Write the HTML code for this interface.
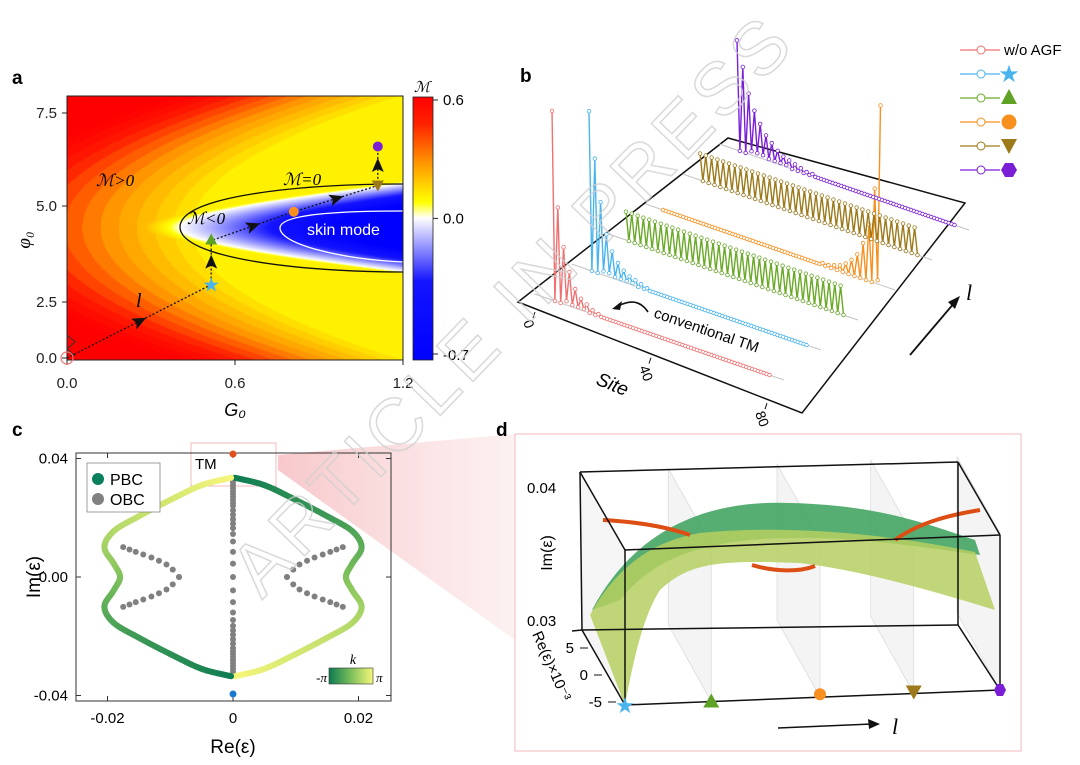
<!DOCTYPE html>
<html><head><meta charset="utf-8">
<style>
html,body{margin:0;padding:0;background:#fff;}
#wrap{position:relative;width:1080px;height:765px;overflow:hidden;font-family:"Liberation Sans",sans-serif;}
#heat{position:absolute;left:67px;top:96px;}
svg{position:absolute;left:0;top:0;}
text{font-family:"Liberation Sans",sans-serif;}
.it{font-family:"Liberation Serif",serif;font-style:italic;}
</style></head>
<body>
<div id="wrap">
<canvas id="heat" width="336" height="264"></canvas>
<svg id="s" width="1080" height="765" viewBox="0 0 1080 765">
<defs>
<linearGradient id="cbar" x1="0" y1="0" x2="0" y2="1">
<stop offset="0" stop-color="#ff0000"/><stop offset="0.1" stop-color="#ff2000"/><stop offset="0.25" stop-color="#ff9600"/><stop offset="0.4" stop-color="#ffff00"/><stop offset="0.46" stop-color="#ffffff"/><stop offset="0.7" stop-color="#1414ff"/><stop offset="1" stop-color="#0000ff"/></linearGradient>
<linearGradient id="kbar" x1="0" y1="0" x2="1" y2="0"><stop offset="0" stop-color="#0c7a52"/><stop offset="0.5" stop-color="#7cc05a"/><stop offset="1" stop-color="#f6f67a"/></linearGradient>
<linearGradient id="wedge" x1="0" y1="0" x2="1" y2="0"><stop offset="0" stop-color="#f4b0b4" stop-opacity="0.7"/><stop offset="1" stop-color="#fbe3e4" stop-opacity="0.5"/></linearGradient>
</defs>
<polygon points="278,455 515,434 515,640 278,470" fill="url(#wedge)"/>
<text x="12" y="84" font-size="19" font-weight="bold">a</text>
<text x="520" y="82" font-size="19" font-weight="bold">b</text>
<text x="12" y="436" font-size="19" font-weight="bold">c</text>
<text x="496" y="436" font-size="19" font-weight="bold">d</text>
<g id="pa"></g>
<g id="pb"></g>
<g id="pc"></g>
<g id="pd"></g>
<g id="wm"></g>
</svg>
</div>
<script>
// ===== Panel a data =====
const aXTicks = [0.0, 0.6, 1.2];
const aYTicks = [0.0, 2.5, 5.0, 7.5];
const aPathG = [0.0, 0.515, 0.515, 0.81, 1.11, 1.11];
const aPathPhi = [0.0, 2.95, 4.1, 4.85, 5.55, 6.6];
const aMarkerColors = ['#f07070','#4ab4ee','#5fa225','#f7901e','#9c7a1c','#7a1fd6'];
const cbarTicks = [0.6, 0.0, -0.7];
// ===== Panel b data (site amplitudes) =====
const bSeriesNames = ['w/o AGF','star','triangle','circle','down-triangle','hexagon'];
const bColors = ['#f07070','#4ab4ee','#6aaa28','#f7901e','#9c7a1c','#7a1fd6'];
const bRed = [1,0,.5,0,.3,.02,.18,.01,.1,.01,.06,.01,.04,0,.02,0,.01,0,0,0,0,0,0,0,0,0,0,0,0,0,0,0,0,0,0,0,0,0,0,0,0,0,0,0,0,0,0,0,0,0,0,0,0,0,0,0,0,0,0,0,0,0,0,0,0,0,0,0,0,0,0,0,0,0,0,0];
const bBlue = [.84,0,.6,0,.38,.02,.22,.02,.14,.01,.09,.01,.06,.01,.04,.01,.03,0,.02,0,.01,0,0,0,0,0,0,0,0,0,0,0,0,0,0,0,0,0,0,0,0,0,0,0,0,0,0,0,0,0,0,0,0,0,0,0,0,0,0,0,0,0,0,0,0,0,0,0,0,0,0,0,0,0,0,0];
const bGreen = [.15,0,.15,0,.15,0,.15,0,.15,0,.15,0,.15,0,.15,0,.15,0,.15,0,.15,0,.15,0,.15,0,.15,0,.15,0,.15,0,.15,0,.15,0,.15,0,.15,0,.15,0,.15,0,.15,0,.15,0,.15,0,.15,0,.15,0,.15,0,.15,0,.15,0,.15,0,.15,0,.15,0,.15,0,.15,0,.15,0,.15,0,.15,0];
const bOrange = [0,0,0,0,0,0,0,0,0,0,0,0,0,0,0,0,0,0,0,0,0,0,0,0,0,0,0,0,0,0,0,0,0,0,0,0,0,0,0,0,0,0,0,0,0,0,0,0,0,0,0,0,0,0,0,.01,0,.01,0,.02,0,.03,0,.05,0,.08,0,.12,0,.19,0,.3,0,.5,.02,.95];
const bBrown = [.14,0,.14,0,.14,0,.14,0,.14,0,.14,0,.14,0,.14,0,.14,0,.14,0,.14,0,.14,0,.14,0,.14,0,.14,0,.14,0,.14,0,.14,0,.14,0,.14,0,.14,0,.14,0,.14,0,.14,0,.14,0,.14,0,.14,0,.14,0,.14,0,.14,0,.14,0,.14,0,.14,0,.14,0,.14,0,.14,0,.14,0,.14,0];
const bPurple = [.58,0,.45,0,.32,.02,.24,.02,.18,.02,.13,.01,.1,.01,.07,.01,.05,.01,.04,0,.03,0,.02,0,.01,0,.01,0,0,0,0,0,0,0,0,0,0,0,0,0,0,0,0,0,0,0,0,0,0,0,0,0,0,0,0,0,0,0,0,0,0,0,0,0,0,0,0,0,0,0,0,0,0,0,0,0];
const bSiteTicks = [0, 40, 80];
// ===== Panel c data =====
const cXTicks = [-0.02, 0, 0.02];
const cYTicks = [0.04, 0.00, -0.04];
const pbcRe = [0.0003,0.005,0.01,0.015,0.019,0.0205,0.019,0.018,0.019,0.0205,0.019,0.015,0.01,0.005,0.0003];
const pbcIm = [0.0335,0.031,0.026,0.0205,0.0155,0.01,0.0045,0,-0.0045,-0.01,-0.0155,-0.0205,-0.026,-0.031,-0.0335];
const obcCenterIm = [0.033,0.032,0.031,0.030,0.029,0.028,0.027,0.026,0.025,0.024,0.0225,0.021,0.0195,0.018,0.0165,0.0145,0.012,0.0085,0.0045,0,-0.0045,-0.0085,-0.012,-0.0145,-0.0165,-0.018,-0.0195,-0.021,-0.0225,-0.024,-0.025,-0.026,-0.027,-0.028,-0.029,-0.030,-0.031,-0.032,-0.033];
const obcBranchRe = [0.0086,0.0096,0.0106,0.0118,0.0130,0.0143,0.0155,0.0165,0.0175];
const obcBranchIm = [0,0.0025,0.0042,0.0055,0.0066,0.0076,0.0085,0.0093,0.0101];
const tmIm = [0.0415, -0.0395];
// ===== Panel d data =====
const dLevels = ['star','triangle','circle','down-triangle','hexagon'];
const dLpos = [0, 0.23, 0.52, 0.77, 1.0];
const dColors = ['#4ab4ee','#5fa225','#f7901e','#9c7a1c','#7a1fd6'];
const dImTicks = [0.04, 0.03];
const dReTicks = [5, 0, -5];

const NS='http://www.w3.org/2000/svg';
function mk(parent, tag, attrs, name, txt){
  const e=document.createElementNS(NS,tag);
  for(const k in attrs) e.setAttribute(k,attrs[k]);
  
  
  if(txt!==undefined) e.textContent=txt;
  parent.appendChild(e); return e;
}

// ===== Panel a =====
(function(){
  const c=document.getElementById('heat'), ctx=c.getContext('2d');
  const img=ctx.createImageData(336,264);
  const stops=[[-0.7,[0,0,255]],[-0.4,[20,20,255]],[0,[255,255,255]],[0.07,[255,255,0]],[0.3,[255,150,0]],[0.48,[255,25,0]],[0.6,[255,0,0]]];
  function col(v){ if(v<=stops[0][0])return stops[0][1]; for(let i=1;i<stops.length;i++){ if(v<=stops[i][0]){const a=stops[i-1],b=stops[i];const t=(v-a[0])/(b[0]-a[0]);return [0,1,2].map(j=>a[1][j]+(b[1][j]-a[1][j])*t);} } return stops[stops.length-1][1];}
  for(let py=0;py<264;py++)for(let px=0;px<336;px++){
    const x=px+67,y=py+96,dy=y-227;
    const r=x-180-286*(Math.sqrt(1+(dy/30)*(dy/30))-1);
    let M;
    if(r>0){M=Math.max(-0.7,-r*0.0045);}
    else{const g=180+0.012*dy*dy-x;let mo=0.1+Math.max(0,g+20)*0.0022;mo=Math.floor(mo*25)/25+0.02;M=Math.min(0.6,Math.min(mo,-r*0.006));}
    const cc=col(M),k=(py*336+px)*4;img.data[k]=cc[0];img.data[k+1]=cc[1];img.data[k+2]=cc[2];img.data[k+3]=255;
  }
  ctx.putImageData(img,0,0);
  const g=document.getElementById('pa');
  const X=v=>67+v/1.2*336;
  const yK=[0,2.5,5,7.5], yP=[358,302,206,113];
  const Y=v=>{let i=0;while(i<2&&v>yK[i+1])i++;return yP[i]+(v-yK[i])/(yK[i+1]-yK[i])*(yP[i+1]-yP[i]);};
  mk(g,'path',{d:'M403,184 C300,184 180,196 180,227 C180,258 300,272 403,272',fill:'none',stroke:'#111','stroke-width':1.3},'m-zero-contour');
  mk(g,'path',{d:'M403,211 C340,211 280,214 280,228 C280,244 340,259 403,262',fill:'none',stroke:'#fff','stroke-width':1.3},'skin-mode-contour');
  mk(g,'rect',{x:67,y:96,width:336,height:264,fill:'none',stroke:'#222','stroke-width':1},'plot-frame-a');
  aXTicks.forEach((v,i)=>{mk(g,'line',{x1:X(v),y1:360,x2:X(v),y2:365,stroke:'#222'},'x-tick-a');mk(g,'text',{x:X(v),y:388,'font-size':15,'text-anchor':'middle',fill:'#222'},'x-tick-label-a',v.toFixed(1));});
  aYTicks.forEach(v=>{mk(g,'line',{x1:62,y1:Y(v),x2:67,y2:Y(v),stroke:'#222'},'y-tick-a');mk(g,'text',{x:57,y:Y(v)+5,'font-size':15,'text-anchor':'end',fill:'#222'},'y-tick-label-a',v.toFixed(1));});
  mk(g,'path',{d:'M67,335 l8,7 l-8,7 l8,7',fill:'none',stroke:'#333','stroke-width':1},'axis-break');
  mk(g,'text',{x:235,y:416,'font-size':18,'text-anchor':'middle','font-style':'italic'},'x-axis-title-a','G₀');
  mk(g,'text',{x:0,y:0,'font-size':19,class:'it',transform:'translate(30,240) rotate(-90)','text-anchor':'middle'},'y-axis-title-a','φ₀');
  let d='';aPathG.forEach((v,i)=>{d+=(i?'L':'M')+X(v)+','+Y(aPathPhi[i]);});
  mk(g,'path',{d:d,fill:'none',stroke:'#111','stroke-width':1.3,'stroke-dasharray':'2,2'},'l-path');
  for(let i=0;i<aPathG.length-1;i++){const x1=X(aPathG[i]),y1=Y(aPathPhi[i]),x2=X(aPathG[i+1]),y2=Y(aPathPhi[i+1]);const mx=(x1+x2)/2,my=(y1+y2)/2,an=Math.atan2(y2-y1,x2-x1)*180/Math.PI;
    mk(g,'path',{d:'M8,0 L-6,-6 L-3,0 L-6,6Z',fill:'#111',transform:`translate(${mx},${my}) rotate(${an})`},'path-arrow');}
  aPathG.forEach((v,i)=>{const x=X(v),y=Y(aPathPhi[i]),c=aMarkerColors[i];
    if(i==0)mk(g,'circle',{cx:x,cy:y,r:6,fill:'none',stroke:c,'stroke-width':1.2},'marker-start');
    else if(i==1)mk(g,'text',{x:x,y:y+7,'font-size':20,'text-anchor':'middle',fill:c},'marker-star','★');
    else if(i==2)mk(g,'path',{d:`M${x},${y-7}L${x+6},${y+4}L${x-6},${y+4}Z`,fill:c},'marker-triangle');
    else if(i==3)mk(g,'circle',{cx:x,cy:y,r:5,fill:c},'marker-circle');
    else if(i==4)mk(g,'path',{d:`M${x-6},${y-5}L${x+6},${y-5}L${x},${y+6}Z`,fill:c},'marker-down-triangle');
    else mk(g,'circle',{cx:x,cy:y,r:5,fill:c},'marker-hexagon');});
  mk(g,'text',{x:96,y:186,'font-size':17,class:'it'},'label-m-positive','ℳ>0');
  mk(g,'text',{x:283,y:185,'font-size':17,class:'it'},'label-m-zero','ℳ=0');
  mk(g,'text',{x:187,y:224,'font-size':17,class:'it'},'label-m-negative','ℳ<0');
  mk(g,'text',{x:307,y:235,'font-size':16,fill:'#fff'},'label-skin-mode','skin mode');
  mk(g,'text',{x:136,y:307,'font-size':20,class:'it'},'label-l','l');
  mk(g,'rect',{x:413,y:97,width:20,height:263,fill:'url(#cbar)',stroke:'#222','stroke-width':0.8},'colorbar-a');
  const cy=v=>97+(0.6-v)/1.3*263;
  cbarTicks.forEach(v=>{const o=(v==0.6?3:v==-0.7?-6:0);mk(g,'line',{x1:433,y1:cy(v)+o,x2:438,y2:cy(v)+o,stroke:'#222'},'colorbar-tick');
    mk(g,'text',{x:443,y:cy(v)+(v==0.6?8:v==-0.7?0:5),'font-size':15},'colorbar-tick-label',v.toFixed(1));});
  mk(g,'text',{x:414,y:92,'font-size':15,class:'it'},'colorbar-title','ℳ');
})();

// ===== Panel b =====
(function(){
  const g=document.getElementById('pb');
  mk(g,'polygon',{points:'518,302 802,413 965,203 728,138',fill:'#fff',stroke:'#111','stroke-width':1.5},'base-plane');
  const O0=[552,300], dep=[37,-30], sv=[2.9,1.0], H=189;
  const series=[bRed,bBlue,bGreen,bOrange,bBrown,bPurple];
  for(let r=0;r<6;r++){const ox=O0[0]+r*dep[0],oy=O0[1]+r*dep[1];
    mk(g,'line',{x1:ox-6*sv[0],y1:oy-6*sv[1],x2:ox+80*sv[0],y2:oy+80*sv[1],stroke:'#c4c4c4','stroke-width':1},'row-baseline');}
  for(let r=0;r<6;r++){const ox=O0[0]+r*dep[0],oy=O0[1]+r*dep[1],vals=series[r];
    const pts=vals.map((v,i)=>[ox+i*sv[0],oy+i*sv[1]-v*H]);
    mk(g,'polyline',{points:pts.map(p=>p.join(',')).join(' '),fill:'none',stroke:bColors[r],'stroke-width':1.4},'series-line-'+r);
    pts.forEach(p=>{const c=document.createElementNS(NS,'circle');c.setAttribute('cx',p[0]);c.setAttribute('cy',p[1]);c.setAttribute('r',1.8);c.setAttribute('fill','#fff');c.setAttribute('stroke',bColors[r]);c.setAttribute('stroke-width',0.8);
      
      
      g.appendChild(c);});
  }
  const tb=[535,312];
  bSiteTicks.forEach(v=>{const x=tb[0]+v*2.9,y=tb[1]+v*1.14;mk(g,'line',{x1:x,y1:y,x2:x-2,y2:y+6,stroke:'#111'},'site-tick');
    mk(g,'text',{x:0,y:0,'font-size':14,transform:`translate(${x-12},${y+10}) rotate(70)`},'site-tick-label',String(v));});
  mk(g,'text',{x:0,y:0,'font-size':19,'font-style':'italic',transform:'translate(595,384) rotate(22)'},'site-axis-title','Site');
  mk(g,'text',{x:0,y:0,'font-size':15,transform:'translate(653,317) rotate(19)'},'annotation-conventional-tm','conventional TM');
  mk(g,'path',{d:'M648,312 C640,300 630,300 618,306',fill:'none',stroke:'#111','stroke-width':1.6},'annotation-arrow');
  mk(g,'path',{d:'M612,309 L622,301 L620,310Z',fill:'#111'},'annotation-arrowhead');
  mk(g,'line',{x1:910,y1:355,x2:955,y2:302,stroke:'#111','stroke-width':1.8},'l-axis-arrow');
  mk(g,'path',{d:'M960,296 L948,302 L955,309Z',fill:'#111'},'l-axis-arrowhead');
  mk(g,'text',{x:966,y:300,'font-size':22,class:'it'},'l-axis-label','l');
  const ly=[50,74,98,122,146,170];
  ly.forEach((y,i)=>{mk(g,'line',{x1:960,y1:y,x2:1000,y2:y,stroke:bColors[i],'stroke-width':1.2},'legend-line');
    mk(g,'circle',{cx:981,cy:y,r:4,fill:'#fff',stroke:bColors[i],'stroke-width':1},'legend-marker');
    const x=1009;
    if(i==0)mk(g,'text',{x:1004,y:y+5,'font-size':15},'legend-label','w/o AGF');
    else if(i==1)mk(g,'text',{x:x,y:y+8,'font-size':24,'text-anchor':'middle',fill:bColors[i]},'legend-star','★');
    else if(i==2)mk(g,'path',{d:`M${x},${y-9}L${x+8},${y+6}L${x-8},${y+6}Z`,fill:'#5fa225'},'legend-triangle');
    else if(i==3)mk(g,'circle',{cx:x,cy:y,r:7.5,fill:bColors[i]},'legend-circle');
    else if(i==4)mk(g,'path',{d:`M${x-8},${y-7}L${x+8},${y-7}L${x},${y+8}Z`,fill:bColors[i]},'legend-down-triangle');
    else mk(g,'polygon',{points:`${x-4},${y-7} ${x+4},${y-7} ${x+8},${y} ${x+4},${y+7} ${x-4},${y+7} ${x-8},${y}`,fill:bColors[i]},'legend-hexagon');});
})();

// ===== Panel c =====
(function(){
  const g=document.getElementById('pc');
  const X=v=>233+v/0.02*125.5, Y=v=>577-v/0.04*118.5;
  mk(g,'rect',{x:191,y:443,width:85,height:43,fill:'none',stroke:'#f2b8bc','stroke-width':1},'tm-zoom-box');
  mk(g,'rect',{x:76,y:453,width:315,height:248,fill:'none',stroke:'#333','stroke-width':1},'plot-frame-c');
  cXTicks.forEach(v=>{mk(g,'line',{x1:X(v),y1:701,x2:X(v),y2:696,stroke:'#333'},'x-tick-c');mk(g,'line',{x1:X(v),y1:453,x2:X(v),y2:458,stroke:'#333'},'x-tick-c-top');
    mk(g,'text',{x:X(v),y:723,'font-size':15,'text-anchor':'middle'},'x-tick-label-c',v===0?'0':v.toFixed(2));});
  cYTicks.forEach(v=>{mk(g,'line',{x1:76,y1:Y(v),x2:81,y2:Y(v),stroke:'#333'},'y-tick-c');mk(g,'line',{x1:391,y1:Y(v),x2:386,y2:Y(v),stroke:'#333'},'y-tick-c-right');
    mk(g,'text',{x:68,y:Y(v)+5,'font-size':15,'text-anchor':'end'},'y-tick-label-c',v.toFixed(2));});
  mk(g,'text',{x:233,y:753,'font-size':19,'text-anchor':'middle'},'x-axis-title-c','Re(ε)');
  mk(g,'text',{x:0,y:0,'font-size':19,'text-anchor':'middle',transform:'translate(40,577) rotate(-90)'},'y-axis-title-c','Im(ε)');
  obcCenterIm.forEach(v=>mk(g,'circle',{cx:X(0),cy:Y(v),r:3,fill:'#808080'},'obc-point'));
  obcBranchRe.forEach((re,i)=>{const im=obcBranchIm[i];
    [[re,im],[re,-im],[-re,im],[-re,-im]].forEach(p=>mk(g,'circle',{cx:X(p[0]),cy:Y(p[1]),r:3,fill:'#808080'},'obc-point'));});
  function lerpC(t){const a=[12,122,82],m=[124,192,90],b=[246,246,122];let c;if(t<0.5){const s=t/0.5;c=a.map((x,j)=>x+(m[j]-x)*s);}else{const s=(t-0.5)/0.5;c=m.map((x,j)=>x+(b[j]-x)*s);}return `rgb(${c.map(Math.round).join(',')})`;}
  const n=pbcRe.length, SUB=6;
  for(let side=0;side<2;side++){const sg=side?-1:1;
    const P=pbcRe.map((re,i)=>[X(sg*re),Y(sg*pbcIm[i])]);
    const get=i=>P[Math.max(0,Math.min(n-1,i))];
    for(let i=0;i<n-1;i++){const p0=get(i-1),p1=get(i),p2=get(i+1),p3=get(i+2);
      let prev=p1;
      for(let s=1;s<=SUB;s++){const t=s/SUB,t2=t*t,t3=t2*t;
        const q=[0,1].map(j=>0.5*((2*p1[j])+(-p0[j]+p2[j])*t+(2*p0[j]-5*p1[j]+4*p2[j]-p3[j])*t2+(-p0[j]+3*p1[j]-3*p2[j]+p3[j])*t3));
        mk(g,'line',{x1:prev[0],y1:prev[1],x2:q[0],y2:q[1],stroke:lerpC((i+t-0.5/SUB)/(n-1)),'stroke-width':6,'stroke-linecap':'round'},'pbc-segment');
        prev=q;}}}
  mk(g,'circle',{cx:X(0),cy:Y(tmIm[0]),r:3.5,fill:'#e0501a'},'tm-point-top');
  mk(g,'circle',{cx:X(0),cy:Y(tmIm[1]),r:3.5,fill:'#1a78d0'},'tm-point-bottom');
  mk(g,'text',{x:195,y:469,'font-size':15},'tm-label','TM');
  mk(g,'rect',{x:87,y:463,width:73,height:49,fill:'#fff',stroke:'#888','stroke-width':0.8},'legend-c');
  mk(g,'circle',{cx:98,cy:479,r:6,fill:'#0a7f5e'},'legend-pbc-marker');
  mk(g,'text',{x:110,y:485,'font-size':16},'legend-pbc-label','PBC');
  mk(g,'circle',{cx:98,cy:499,r:6,fill:'#808080'},'legend-obc-marker');
  mk(g,'text',{x:110,y:505,'font-size':16},'legend-obc-label','OBC');
  mk(g,'rect',{x:329,y:668,width:44,height:16,fill:'url(#kbar)',stroke:'#333','stroke-width':0.6},'k-colorbar');
  mk(g,'text',{x:327,y:682,'font-size':13,'text-anchor':'end',class:'it'},'k-min-label','-π');
  mk(g,'text',{x:376,y:682,'font-size':13,class:'it'},'k-max-label','π');
  mk(g,'text',{x:353,y:664,'font-size':14,'text-anchor':'middle',class:'it'},'k-title','k');
})();

// ===== Panel d =====
(function(){
  const g=document.getElementById('pd');
  mk(g,'rect',{x:515,y:434,width:506,height:317,fill:'#fff',stroke:'#f2c4c8','stroke-width':1.2},'panel-d-frame');
  const FB=l=>[625+l*375,705-l*15];
  dLpos.forEach((l,i)=>{if(i==0)return;const [x,y]=FB(l);
    mk(g,'polygon',{points:`${x},${y} ${x},${y-157} ${x-43},${y-233} ${x-43},${y-77}`,fill:'#ececec','fill-opacity':0.6,stroke:'#d8d8d8','stroke-width':0.7},'l-slice-plane');});
  mk(g,'polygon',{points:'580,472 625,550 625,705 582,630',fill:'#eeeeee','fill-opacity':0.6},'left-side-plane');
  mk(g,'path',{d:'M592,610 C640,520 720,500 790,503 C880,505 930,525 975,540 L980,555 C930,548 880,540 820,538 C720,536 660,550 620,600 Z',fill:'#3aa05a','fill-opacity':0.85},'surface-upper');
  mk(g,'path',{d:'M590,615 C620,560 660,540 700,533 C780,525 880,532 975,552 L995,610 C930,590 860,570 800,563 C720,560 690,562 660,590 C640,620 630,680 625,705 Z',fill:'#b5cf60','fill-opacity':0.85},'surface-lower');
  mk(g,'path',{d:'M603,520 C640,522 670,528 690,535',fill:'none',stroke:'#dd4e14','stroke-width':4},'tm-curve-left');
  mk(g,'path',{d:'M752,565 C775,572 800,572 815,566',fill:'none',stroke:'#dd4e14','stroke-width':4},'tm-curve-middle');
  mk(g,'path',{d:'M895,540 C920,522 950,515 980,510',fill:'none',stroke:'#dd4e14','stroke-width':4},'tm-curve-right');
  const E=[[580,472,958,462],[625,550,1000,535],[582,630,958,625],[625,705,1000,690],[580,472,582,630],[625,550,625,705],[1000,535,1000,690],[958,462,958,625],[580,472,625,550],[958,462,1000,535],[582,630,625,705],[958,625,1000,690]];
  E.forEach(e=>mk(g,'line',{x1:e[0],y1:e[1],x2:e[2],y2:e[3],stroke:'#111','stroke-width':1.5},'box-edge'));
  mk(g,'line',{x1:572,y1:631,x2:582,y2:630,stroke:'#111','stroke-width':1.5},'im-tick');
  dImTicks.forEach((v,i)=>mk(g,'text',{x:527,y:i?626:493,'font-size':15},'im-tick-label',v.toFixed(2)));
  mk(g,'text',{x:0,y:0,'font-size':16,'text-anchor':'middle',transform:'translate(552,553) rotate(-90)'},'im-axis-title','Im(ε)');
  dReTicks.forEach((v,i)=>{const y=648+i*27,x=580+i*14;
    mk(g,'line',{x1:x,y1:y,x2:x+8,y2:y,stroke:'#111'},'re-tick');
    mk(g,'text',{x:x-6,y:y+5,'font-size':15,'text-anchor':'end'},'re-tick-label',String(v));});
  mk(g,'text',{x:0,y:0,'font-size':15,transform:'translate(532,634) rotate(66)'},'re-axis-title','Re(ε)×10⁻³');
  dLpos.forEach((l,i)=>{const [x,y]=FB(l),c=dColors[i];
    if(i==0)mk(g,'text',{x:x,y:y+8,'font-size':22,'text-anchor':'middle',fill:c},'level-marker-star','★');
    else if(i==1)mk(g,'path',{d:`M${x},${y-8}L${x+8},${y+6}L${x-8},${y+6}Z`,fill:c},'level-marker-triangle');
    else if(i==2)mk(g,'circle',{cx:x,cy:y-3,r:6,fill:c},'level-marker-circle');
    else if(i==3)mk(g,'path',{d:`M${x-8},${y-8}L${x+8},${y-8}L${x},${y+6}Z`,fill:c},'level-marker-down-triangle');
    else mk(g,'polygon',{points:`${x-3},${y-6} ${x+3},${y-6} ${x+6},${y} ${x+3},${y+6} ${x-3},${y+6} ${x-6},${y}`,fill:c},'level-marker-hexagon');});
  mk(g,'line',{x1:778,y1:728,x2:872,y2:724,stroke:'#111','stroke-width':1.5},'l-arrow-d');
  mk(g,'path',{d:'M880,724 L868,719 L869,729Z',fill:'#111'},'l-arrowhead-d');
  mk(g,'text',{x:892,y:734,'font-size':22,class:'it'},'l-label-d','l');
})();
// watermark
(function(){
  const g=document.getElementById('wm');
  mk(g,'text',{x:0,y:0,'font-size':74,fill:'none',stroke:'#cfcfcf','stroke-width':1.5,'stroke-opacity':0.8,'letter-spacing':6,transform:'translate(262,600) rotate(-46)'},'watermark-text','ARTICLE IN PRESS');
})();
</script>
</body></html>
